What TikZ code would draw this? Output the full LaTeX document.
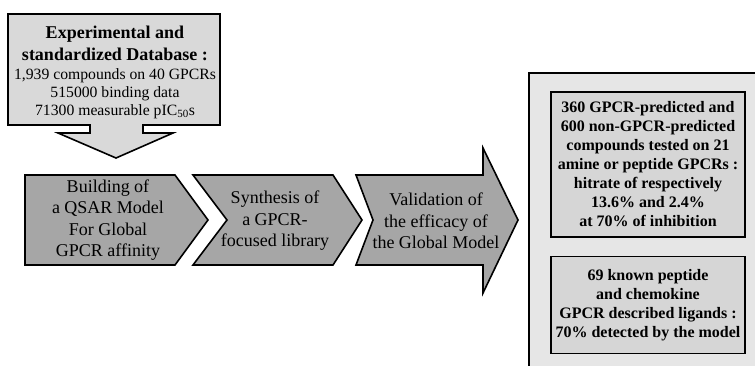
\documentclass[tikz,border=0pt]{standalone}
\usepackage{fontspec}
\setmainfont{Liberation Serif}
\usepackage{tikz}
\usetikzlibrary{positioning}
\definecolor{stepgray}{HTML}{A6A6A6}
\definecolor{boxgray}{HTML}{D9D9D9}
\definecolor{panelgray}{HTML}{E6E6E6}
\definecolor{innergray}{HTML}{D6D6D6}
\newcommand{\dbhead}[1]{{\fontsize{18}{21}\selectfont\bfseries #1}}
\tikzset{
    every picture/.style={line join=miter},
    stepshape/.style={draw=black,fill=stepgray,line width=1.6pt},
    dbshape/.style={draw=black,fill=boxgray,line width=1.6pt},
    steptext/.style={align=center,font=\fontsize{18}{21.5}\selectfont,inner sep=0pt},
    dbtext/.style={align=center,font=\fontsize{15.7}{18}\selectfont,inner sep=0pt},
    resultbox/.style={draw=black,fill=innergray,line width=1.2pt,
      minimum width=194pt,inner sep=0pt,align=center,
      font=\fontsize{16}{19}\selectfont\bfseries}
}

\begin{document}
\begin{tikzpicture}[x=1pt,y=-1pt]
  \useasboundingbox (0,0) rectangle (755,365);
  \clip (0,0) rectangle (755,365);
  % database callout with its arrow
  \draw[dbshape] (8,14) -- (220,14) -- (220,125) -- (143,125) -- (143,133)
    -- (173,133) -- (116,158) -- (58,133) -- (90,133) -- (90,125)
    -- (8,125) -- cycle;
  \node[dbtext] (db) at (115,72) {\dbhead{Experimental and}\\[4pt]
    \dbhead{standardized Database :}\\[1pt]
    1,939 compounds on 40 GPCRs\\
    515000 binding data\\
    71300 measurable pIC\textsubscript{50}s};

  % the three steps
  \draw[stepshape] (25,175) -- (175,175) -- (208,220) -- (175,265)
    -- (25,265) -- cycle;
  \node[steptext] (qsar) at (108,220) {Building of\\a QSAR Model\\For Global\\GPCR affinity};
  \draw[stepshape] (193,175) -- (333,175) -- (362,220) -- (333,265)
    -- (193,265) -- (227,220) -- cycle;
  \node[steptext] (synth) at (275,221) {Synthesis of\\a GPCR-\\focused library};
  \draw[stepshape] (356,175) -- (483,175) -- (483,148) -- (518,220)
    -- (483,293) -- (483,265) -- (356,265) -- (373,220) -- cycle;
  \node[steptext] (valid) at (436,221) {Validation of\\the efficacy of\\the Global Model};

  % results
  \draw[draw=black,fill=panelgray,line width=1.6pt] (529,73) rectangle (775,385);
  \node[resultbox,minimum height=145pt] (hits) at (648,164.5)
    {360 GPCR-predicted and\\600 non-GPCR-predicted\\compounds tested on 21\\
     amine or peptide GPCRs :\\hitrate of respectively\\13.6\% and 2.4\%\\at 70\% of inhibition};
  \node[resultbox,minimum height=97pt,below=18pt of hits] (known)
    {69 known peptide\\and chemokine\\GPCR described ligands :\\70\% detected by the model};
\end{tikzpicture}
\end{document}
